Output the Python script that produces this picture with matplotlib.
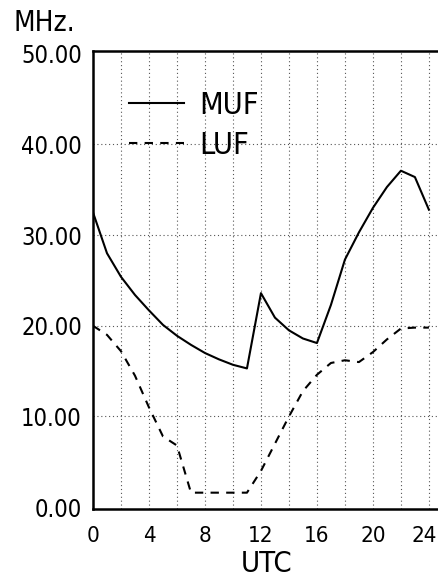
import matplotlib

matplotlib.use("Agg")

import matplotlib.pyplot as plt
from matplotlib.transforms import ScaledTranslation

hours = list(range(0, 25))
muf = [32.5, 28.0, 25.4, 23.4, 21.7, 20.1, 18.9, 17.9, 17.0, 16.3, 15.7, 15.3,
       23.6, 20.9, 19.5, 18.6, 18.1, 22.3, 27.3, 30.3, 33.0, 35.3, 37.1, 36.4, 32.8]
luf = [20.0, 19.0, 17.2, 14.5, 11.0, 7.8, 6.8, 1.6, 1.6, 1.6, 1.6, 1.6,
       4.0, 7.0, 10.0, 12.8, 14.6, 15.9, 16.2, 16.0, 17.1, 18.5, 19.7, 19.8, 19.8]

x_ticks = [0, 4, 8, 12, 16, 20, 24]
x_grid = list(range(2, 25, 2))
y_ticks = [0, 10, 20, 30, 40, 50]
y_grid = [10, 20, 30, 40]

plt.rcParams["font.family"] = ["DejaVu Sans"]
plt.rcParams["font.stretch"] = "condensed"

fig = plt.figure(figsize=(4.38, 5.79), dpi=100)
ax = fig.add_axes([93 / 438, 70 / 579, 345 / 438, 458 / 579])

for gx in x_grid:
    ax.axvline(gx, color="#555555", linestyle=(0, (1, 2.5)), linewidth=0.8, zorder=1)
for gy in y_grid:
    ax.axhline(gy, color="#555555", linestyle=(0, (1, 2.5)), linewidth=0.8, zorder=1)

ax.plot(hours, muf, color="black", linewidth=1.5, label="MUF", zorder=3)
ax.plot(hours, luf, color="black", linewidth=1.5, linestyle=(0, (4, 3.5)), label="LUF", zorder=3)

ax.set_xlim(0, 24.65)
ax.set_ylim(-0.2, 50.3)
ax.set_xticks(x_ticks)
ax.set_yticks(y_ticks)
ax.set_yticklabels([f"{v:.2f}" for v in y_ticks])
ax.tick_params(length=0)
ax.tick_params(axis="y", labelsize=17, pad=8)
ax.tick_params(axis="x", labelsize=16, pad=12)

# pull the last hour label in a little so it stays inside the picture
last = ax.get_xticklabels()[-1]
last.set_transform(last.get_transform() + ScaledTranslation(-5 / 100, 0, fig.dpi_scale_trans))

for side in ["left", "bottom", "top"]:
    ax.spines[side].set_linewidth(1.8)
ax.spines["right"].set_visible(False)

ax.legend(loc="upper left", bbox_to_anchor=(0.105, 0.913), frameon=False,
          fontsize=22, handlelength=1.8, handletextpad=0.5, labelspacing=0.36,
          borderpad=0, borderaxespad=0)

fig.text(267 / 438, 1 - 564 / 579, "UTC", fontsize=21, ha="center", va="center")
fig.text(13 / 438, 1 - 23 / 579, "MHz.", fontsize=20, ha="left", va="center")

fig.savefig("out.png", dpi=100)
